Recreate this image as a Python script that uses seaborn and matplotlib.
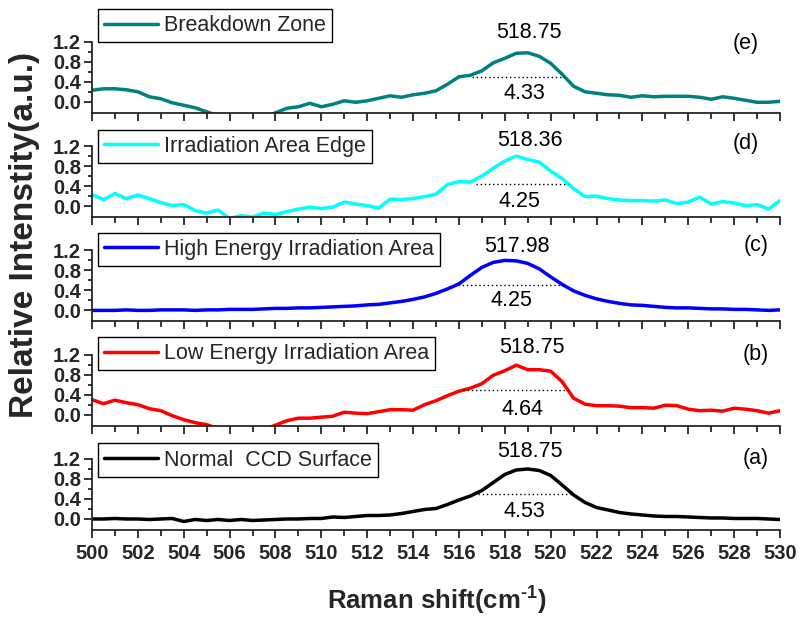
import matplotlib
matplotlib.use("Agg")
import matplotlib.pyplot as plt
import seaborn as sns
import pandas as pd
from matplotlib.ticker import MultipleLocator, FormatStrFormatter

# ---------------- data ----------------
raman_shift = [500.0, 500.5, 501.0, 501.5, 502.0, 502.5, 503.0, 503.5, 504.0, 504.5,
               505.0, 505.5, 506.0, 506.5, 507.0, 507.5, 508.0, 508.5, 509.0, 509.5,
               510.0, 510.5, 511.0, 511.5, 512.0, 512.5, 513.0, 513.5, 514.0, 514.5,
               515.0, 515.5, 516.0, 516.5, 517.0, 517.5, 518.0, 518.5, 519.0, 519.5,
               520.0, 520.5, 521.0, 521.5, 522.0, 522.5, 523.0, 523.5, 524.0, 524.5,
               525.0, 525.5, 526.0, 526.5, 527.0, 527.5, 528.0, 528.5, 529.0, 529.5,
               530.0]

breakdown_zone = [0.23, 0.26, 0.26, 0.24, 0.20, 0.10, 0.06, -0.02, -0.07, -0.12,
                  -0.20, -0.28, -0.35, -0.40, -0.38, -0.32, -0.22, -0.13, -0.10, -0.03,
                  -0.10, -0.05, 0.02, -0.01, 0.02, 0.07, 0.12, 0.09, 0.14, 0.17,
                  0.22, 0.35, 0.50, 0.53, 0.62, 0.78, 0.87, 0.97, 0.98, 0.91,
                  0.77, 0.55, 0.31, 0.20, 0.17, 0.14, 0.13, 0.09, 0.12, 0.10,
                  0.11, 0.11, 0.11, 0.09, 0.05, 0.10, 0.07, 0.03, -0.01, -0.01,
                  0.01]

irradiation_edge = [0.23, 0.13, 0.25, 0.15, 0.22, 0.15, 0.07, 0.01, 0.03, -0.09,
                    -0.14, -0.08, -0.25, -0.19, -0.22, -0.14, -0.17, -0.11, -0.06, -0.02,
                    -0.05, -0.02, 0.08, 0.04, 0.01, -0.04, 0.14, 0.13, 0.15, 0.19,
                    0.24, 0.43, 0.49, 0.48, 0.60, 0.76, 0.90, 1.00, 0.93, 0.88,
                    0.70, 0.55, 0.35, 0.19, 0.20, 0.15, 0.12, 0.11, 0.11, 0.10,
                    0.12, 0.05, 0.08, 0.18, 0.04, 0.09, 0.06, 0.01, 0.03, -0.06,
                    0.11]

high_energy_area = [0.00, 0.00, 0.00, 0.01, 0.00, 0.00, 0.01, 0.01, 0.01, 0.00,
                    0.01, 0.01, 0.02, 0.02, 0.02, 0.03, 0.04, 0.04, 0.05, 0.05,
                    0.06, 0.07, 0.08, 0.09, 0.11, 0.12, 0.15, 0.18, 0.22, 0.27,
                    0.34, 0.43, 0.53, 0.70, 0.86, 0.96, 1.00, 0.99, 0.94, 0.83,
                    0.67, 0.52, 0.39, 0.30, 0.23, 0.18, 0.14, 0.11, 0.10, 0.08,
                    0.06, 0.05, 0.05, 0.04, 0.03, 0.03, 0.02, 0.02, 0.01, 0.00,
                    0.01]

low_energy_area = [0.30, 0.22, 0.29, 0.24, 0.20, 0.12, 0.08, -0.02, -0.10, -0.16,
                   -0.20, -0.28, -0.35, -0.40, -0.38, -0.30, -0.21, -0.12, -0.07, -0.07,
                   -0.05, -0.03, 0.05, 0.03, 0.02, 0.06, 0.10, 0.10, 0.09, 0.20,
                   0.28, 0.38, 0.47, 0.53, 0.62, 0.79, 0.88, 0.99, 0.90, 0.90,
                   0.87, 0.66, 0.33, 0.21, 0.18, 0.18, 0.17, 0.14, 0.14, 0.13,
                   0.19, 0.18, 0.11, 0.08, 0.09, 0.07, 0.13, 0.11, 0.08, 0.03,
                   0.08]

normal_ccd = [0.00, 0.00, 0.01, 0.00, 0.00, -0.01, 0.00, 0.01, -0.05, -0.01,
              -0.03, -0.01, -0.03, -0.01, -0.03, -0.02, -0.01, 0.00, 0.00, 0.01,
              0.01, 0.04, 0.03, 0.05, 0.07, 0.07, 0.08, 0.11, 0.15, 0.19,
              0.21, 0.29, 0.38, 0.46, 0.57, 0.73, 0.89, 0.98, 1.00, 0.97,
              0.87, 0.68, 0.48, 0.33, 0.23, 0.18, 0.13, 0.10, 0.08, 0.06,
              0.05, 0.05, 0.04, 0.03, 0.02, 0.02, 0.01, 0.01, 0.01, 0.00,
              -0.01]

series_names = ["Breakdown Zone", "Irradiation Area Edge", "High Energy Irradiation Area",
                "Low Energy Irradiation Area", "Normal  CCD Surface"]
panel_tags = ["(e)", "(d)", "(c)", "(b)", "(a)"]
peak_labels = ["518.75", "518.36", "517.98", "518.75", "518.75"]
fwhm_labels = ["4.33", "4.25", "4.25", "4.64", "4.53"]
fwhm_left = [516.56, 516.73, 515.94, 516.17, 516.83]
fwhm_right = [520.56, 520.77, 520.65, 520.77, 520.98]
fwhm_level = [0.50, 0.45, 0.51, 0.49, 0.50]
y_ticks = [0.0, 0.4, 0.8, 1.2]

# ---------------- styles / layout ----------------
series_colors = ["#008080", "#00FFFF", "#0000FF", "#FF0000", "#000000"]
peak_pos = [(519.06, 1.38), (519.08, 1.32), (518.52, 1.27), (519.2, 1.34), (519.08, 1.34)]
fwhm_pos = [(518.85, 0.17), (518.63, 0.10), (518.3, 0.19), (518.75, 0.10), (518.86, 0.15)]
tag_pos = [(528.5, 1.17), (528.5, 1.25), (528.95, 1.29), (528.95, 1.21), (528.95, 1.21)]
legend_top = [1.85, 1.53, 1.55, 1.55, 1.51]
YMIN, YMAX = -0.22, 1.866

sns.set_theme(style="ticks")
plt.rcParams["font.family"] = ["Liberation Sans", "DejaVu Sans"]
plt.rcParams["mathtext.fontset"] = "custom"
plt.rcParams["mathtext.rm"] = "Liberation Sans:bold"
plt.rcParams["mathtext.bf"] = "Liberation Sans:bold"
plt.rcParams["mathtext.default"] = "bf"

fig, axes = plt.subplots(5, 1, figsize=(8.02, 6.19), dpi=100, sharex=True,
                         gridspec_kw={"hspace": 0})
fig.subplots_adjust(left=0.1147, right=0.9726, bottom=0.1438, top=0.9863)

series = [breakdown_zone, irradiation_edge, high_energy_area, low_energy_area, normal_ccd]

for i, ax in enumerate(axes):
    df = pd.DataFrame({"shift": raman_shift, "intensity": series[i]})
    sns.lineplot(data=df, x="shift", y="intensity", ax=ax, color=series_colors[i],
                 linewidth=2.5, label=series_names[i])
    ax.plot([fwhm_left[i], fwhm_right[i]], [fwhm_level[i], fwhm_level[i]],
            linestyle=(0, (1, 2)), color="black", linewidth=1.0, label="_nolegend_")
    ax.text(peak_pos[i][0], peak_pos[i][1], peak_labels[i], ha="center", va="center",
            fontsize=15.5, color="black")
    ax.text(fwhm_pos[i][0], fwhm_pos[i][1], fwhm_labels[i], ha="center", va="center",
            fontsize=15.5, color="black")
    ax.text(tag_pos[i][0], tag_pos[i][1], panel_tags[i], ha="center", va="center",
            fontsize=15.5, color="black")

    leg = ax.legend(handles=[ax.lines[0]], labels=[series_names[i]],
                    loc="upper left", bbox_to_anchor=(500.25, legend_top[i]),
                    bbox_transform=ax.transData, borderaxespad=0, borderpad=0.28,
                    handlelength=2.5, handletextpad=0.3, fontsize=15.5,
                    fancybox=False, framealpha=1, edgecolor="black")
    leg.get_frame().set_linewidth(1.0)

    ax.set_xlim(500, 530)
    ax.set_ylim(YMIN, YMAX)
    ax.set_ylabel("")
    ax.set_xlabel("")
    ax.set_yticks(y_ticks)
    ax.yaxis.set_minor_locator(plt.FixedLocator([0.2, 0.6, 1.0]))
    ax.yaxis.set_major_formatter(FormatStrFormatter("%.1f"))
    ax.xaxis.set_major_locator(MultipleLocator(2))
    ax.xaxis.set_minor_locator(MultipleLocator(1))
    for s in ["top", "right"]:
        ax.spines[s].set_visible(False)
    ax.spines["left"].set_bounds(YMIN, 1.2)
    ax.spines["left"].set_linewidth(1.3)
    ax.spines["bottom"].set_linewidth(1.3)
    ax.tick_params(axis="y", which="major", direction="out", length=5.5, width=1.3,
                   pad=2.5, labelsize=14.5)
    ax.tick_params(axis="y", which="minor", direction="out", length=3, width=1.3)
    ax.tick_params(axis="x", which="major", direction="out", length=5.5, width=1.3,
                   pad=4.5, labelsize=14.5)
    ax.tick_params(axis="x", which="minor", direction="out", length=4.5, width=1.3)
    for lab in ax.get_yticklabels() + ax.get_xticklabels():
        lab.set_fontweight("bold")
    ax.patch.set_alpha(0)

fig.text(0.545, 0.03, r"Raman shift(cm$^{\text{-1}}$)", ha="center", va="center",
         fontsize=18.5, fontweight="bold")
fig.text(0.03, 0.62, "Relative Intenstity(a.u.)", rotation=90, ha="center", va="center",
         fontsize=24, fontweight="bold")

fig.savefig("out.png", dpi=100)
